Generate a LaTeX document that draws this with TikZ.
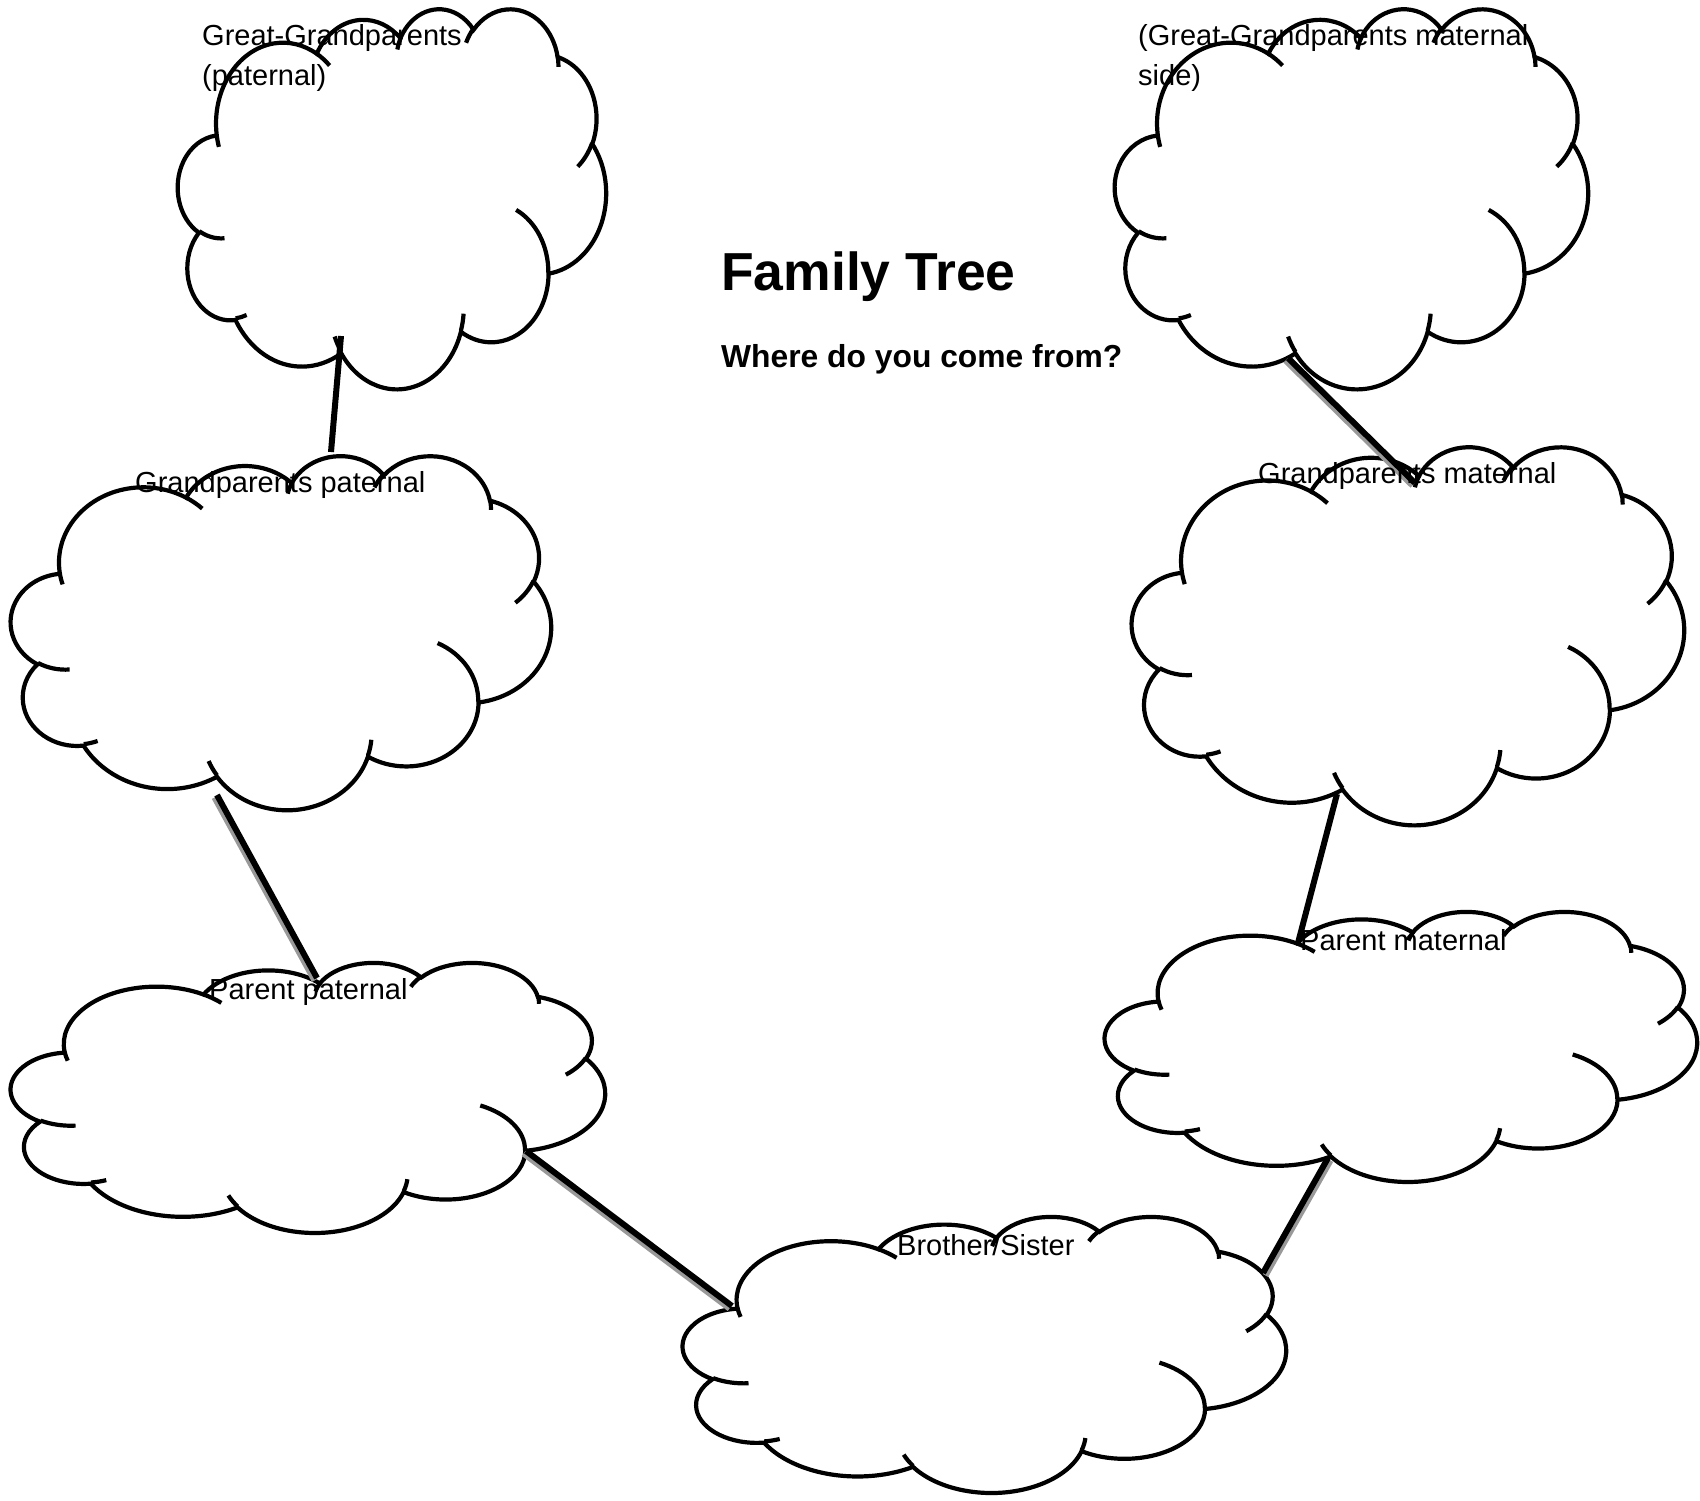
\documentclass[tikz,border=0pt]{standalone}
\usepackage{fontspec}
\setmainfont{Liberation Sans}
% one lobe arc of the Office cloud shape: visual angles -> parametric angles
\newcommand\defcloudarc[5]{%
  \pgfmathsetmacro\cldtmpA{atan2((#2)*sin(#4),(#3)*cos(#4))}%
  \pgfmathsetmacro\cldtmpB{atan2((#2)*sin((#4)+(#5)),(#3)*cos((#4)+(#5)))}%
  \pgfmathsetmacro\cldtmpB{\cldtmpA+mod(\cldtmpB-\cldtmpA+720,360)}%
  \expandafter\xdef\csname cldarc#1\endcsname{arc[start angle=\cldtmpA, end angle=\cldtmpB, x radius=#2, y radius=#3]}%
}
\defcloudarc{A}{15.6319}{21.2731}{-190.4875}{123.7805}
\defcloudarc{B}{12.3449}{16.8218}{-144.1024}{89.9452}
\defcloudarc{C}{10.1042}{13.7616}{-145.8079}{99.7230}
\defcloudarc{D}{11.2431}{15.2662}{-130.9861}{117.2417}
\defcloudarc{E}{12.3449}{16.8356}{-78.7089}{109.0269}
\defcloudarc{F}{15.6829}{21.3426}{-46.2673}{130.2690}
\defcloudarc{G}{13.3912}{18.2106}{0.6250}{114.0333}
\defcloudarc{H}{15.6296}{21.3310}{22.4516}{115.1726}
\defcloudarc{I}{17.8704}{24.4051}{66.2426}{75.7110}
\defcloudarc{J}{10.0926}{13.6991}{-274.9421}{146.7356}
\defcloudarc{K}{10.0579}{13.7616}{-246.8285}{152.5189}
\defcloudarc{a}{10.0579}{13.7616}{86.7420}{26.4295}
\defcloudarc{b}{10.0926}{13.6991}{73.6105}{11.4475}
\defcloudarc{c}{15.6296}{21.3310}{137.6242}{14.0811}
\defcloudarc{d}{15.6296}{21.3310}{6.4533}{15.9984}
\defcloudarc{e}{13.3912}{18.2106}{-70.2924}{70.9174}
\defcloudarc{f}{12.3449}{16.8356}{30.3180}{27.7515}
\defcloudarc{g}{11.2431}{15.2662}{-13.7443}{14.8589}
\defcloudarc{h}{11.2431}{15.2662}{-149.1815}{18.1954}
\defcloudarc{i}{10.1042}{13.7616}{-163.4943}{17.6864}
\defcloudarc{j}{15.6319}{21.2731}{-66.7070}{12.3194}
\defcloudarc{k}{15.6319}{21.2731}{157.6544}{11.8582}
\newcommand\cldmain{(9.0278,33.2639) \cldarcA \cldarcB \cldarcC \cldarcD \cldarcE \cldarcF \cldarcG \cldarcH \cldarcI \cldarcJ \cldarcK -- cycle}
\newcommand\cldinner{(10.8634,60.5949) \cldarca (16.0370,80.7847) \cldarcb (38.1435,90.4861) \cldarcc (66.7292,80.4421) \cldarcd (79.0023,53.1343) \cldarce (96.7546,35.5417) \cldarcf (88.7130,12.5602) \cldarcg (67.3102,9.1481) \cldarch (51.2523,10.9259) \cldarci (32.4074,12.0185) \cldarcj (9.5532,36.5486) \cldarck}
\newcommand\drawcloud[5]{%
  \begin{scope}[shift={(#2,#3)},x=#4pt,y=-#5pt]
    \filldraw[cloudline,fill=white] \cldmain;
    \draw[cloudline] \cldinner;
    \coordinate (#1) at (50,50);
  \end{scope}}
\begin{document}
\begin{tikzpicture}[x=1pt,y=-1pt,
  cloudline/.style={line width=4.2pt,draw=black},
  conn/.style={line width=6pt,draw=black},
  connshadow/.style={line width=6pt,draw=black!40},
  lbl/.style={anchor=base west,inner sep=0pt,font=\fontsize{29}{36}\selectfont},
  titlefont/.style={anchor=base west,inner sep=0pt,font=\fontsize{53.5}{60}\selectfont\bfseries},
  subfont/.style={anchor=base west,inner sep=0pt,font=\fontsize{31.8}{38}\selectfont\bfseries}]
\useasboundingbox (0,0) rectangle (1700,1501);
\fill[white] (0,0) rectangle (1700,1501);
% clouds
\drawcloud{gpp}{178}{8}{4.28}{3.80}
\drawcloud{gpm}{1115}{8}{4.73}{3.80}
\drawcloud{grp}{11}{455}{5.40}{3.54}
\drawcloud{grm}{1132}{446}{5.52}{3.78}
\drawcloud{pap}{11}{962}{5.94}{2.70}
\drawcloud{pam}{1105}{911}{5.92}{2.70}
\drawcloud{sib}{683}{1216}{6.03}{2.76}
% connector end points
\coordinate (gppB) at (341,336);
\coordinate (grpT) at (331,452);
\coordinate (grpB) at (217,795);
\coordinate (papT) at (317,978);
\coordinate (papB) at (526,1151);
\coordinate (sibL) at (732,1306);
\coordinate (gpmB) at (1288,358);
\coordinate (grmT) at (1415,483);
\coordinate (grmB) at (1337,794);
\coordinate (pamT) at (1298,943);
\coordinate (pamB) at (1328,1158);
\coordinate (sibR) at (1263,1273);
% connectors with their shadows
\foreach \a/\b/\dx/\dy in {grpB/papT/-2.5/2.5,papB/sibL/-2.5/2.5,gpmB/grmT/-2.5/2.5,pamB/sibR/2.5/2.5}{
  \draw[connshadow,transform canvas={shift={(\dx,\dy)}}] (\a) -- (\b);
}
\foreach \a/\b in {gppB/grpT,grpB/papT,papB/sibL,gpmB/grmT,grmB/pamT,pamB/sibR}{
  \draw[conn] (\a) -- (\b);
}
% texts
\node[lbl] (t1a) at (202,46) {Great-Grandparents};
\node[lbl] (t1b) at (202,86) {(paternal)};
\node[lbl] (t2a) at (1138,46) {(Great-Grandparents maternal};
\node[lbl] (t2b) at (1138,86) {side)};
\node[lbl] (t3) at (135,492) {Grandparents paternal};
\node[lbl] (t4) at (1258,483) {Grandparents maternal};
\node[lbl] (t5) at (209,999) {Parent paternal};
\node[lbl] (t6) at (1300,950) {Parent maternal};
\node[lbl] (t7) at (897,1255) {Brother/Sister};
\node[titlefont] (title) at (721,290) {Family Tree};
\node[subfont] (sub) at (721,367) {Where do you come from?};
\end{tikzpicture}
\end{document}
